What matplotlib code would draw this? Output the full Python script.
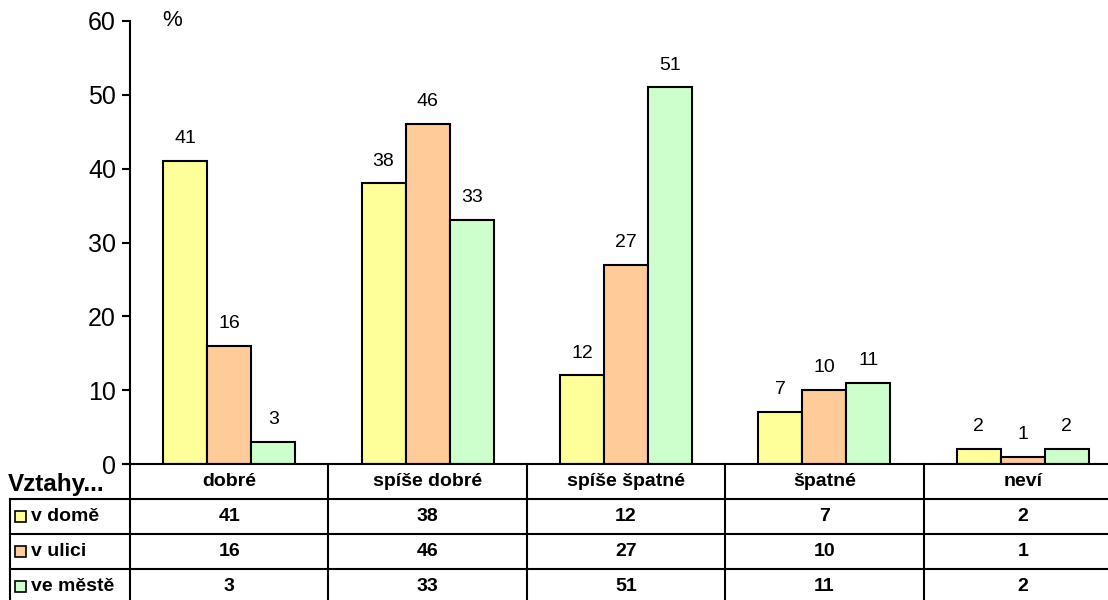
import matplotlib
matplotlib.use("Agg")
import matplotlib.pyplot as plt
from matplotlib.patches import Rectangle
import numpy as np

plt.rcParams['font.family'] = ['Liberation Sans', 'DejaVu Sans']

categories = ["dobré", "spíše dobré", "spíše špatné", "špatné", "neví"]
series_names = ["v domě", "v ulici", "ve městě"]
v_dome = [41, 38, 12, 7, 2]
v_ulici = [16, 46, 27, 10, 1]
ve_meste = [3, 33, 51, 11, 2]
series_values = [v_dome, v_ulici, ve_meste]
colors = ["#FFFF99", "#FFCC99", "#CCFFCC"]
yticks = [0, 10, 20, 30, 40, 50, 60]
row_title = "Vztahy..."
unit = "%"

W, H = 1108, 600
fig = plt.figure(figsize=(W / 100, H / 100), dpi=100)

ax_left, ax_right = 130, 1122
ax_top, ax_bot = 21, 464
ax = fig.add_axes([ax_left / W, (H - ax_bot) / H, (ax_right - ax_left) / W, (ax_bot - ax_top) / H])
ax.set_xlim(-0.5, len(categories) - 0.5)
ax.set_ylim(0, 60)

x = np.arange(len(categories))
bw = 0.222
lw = 1.5
for i, (vals, col) in enumerate(zip(series_values, colors)):
    pos = x + (i - 1) * bw
    bars = ax.bar(pos, vals, width=bw, color=col, edgecolor="black", linewidth=lw, zorder=3)
    for b, v in zip(bars, vals):
        ax.annotate(str(v), (b.get_x() + b.get_width() / 2, v), xytext=(0, 10),
                    textcoords="offset points", ha="center", va="bottom", fontsize=14)

for s in ["top", "right", "bottom"]:
    ax.spines[s].set_visible(False)
ax.spines["left"].set_linewidth(lw)
ax.set_yticks(yticks)
ax.set_yticklabels([str(t) for t in yticks], fontsize=18)
ax.tick_params(axis="y", direction="out", length=6, width=lw, pad=4)
ax.set_xticks([])
ax.text(0.033, 60, unit, transform=ax.get_yaxis_transform(), fontsize=16, va="center", ha="left")

# Table axes sharing x scale
row_h = 35
nrows = 4
tax = fig.add_axes([ax_left / W, (H - (ax_bot + row_h * nrows)) / H,
                    (ax_right - ax_left) / W, row_h * nrows / H])
tax.set_xlim(ax.get_xlim())
tax.set_ylim(nrows, 0)
tax.axis("off")
px = (ax_right - ax_left) / len(categories)  # pixels per category unit
x_lab = -0.5 - (ax_left - 10) / px
x_end = len(categories) - 0.5
kw = dict(color="black", linewidth=lw, clip_on=False, solid_capstyle="projecting")

# horizontal lines
tax.plot([-0.5 - 7 / px, x_end], [0, 0], **kw)
for r in range(1, nrows + 1):
    tax.plot([x_lab, x_end], [r, r], **kw)
# vertical lines
for c in range(len(categories) + 1):
    tax.plot([c - 0.5, c - 0.5], [0, nrows], **kw)
tax.plot([x_lab, x_lab], [1, nrows], **kw)

# header
for c, cat in enumerate(categories):
    tax.text(c, 0.5, cat, ha="center", va="center", fontsize=14, fontweight="bold")
tax.text(x_lab - 2 / px, 0.58, row_title, ha="left", va="center", fontsize=17.5, fontweight="bold", clip_on=False)

key = 11 / px
for r, (name, vals, col) in enumerate(zip(series_names, series_values, colors), start=1):
    kx = x_lab + 5 / px
    tax.add_patch(Rectangle((kx, r + 0.5 - 0.16), key, 0.32, facecolor=col, edgecolor="black",
                            linewidth=1.2, clip_on=False))
    tax.text(kx + key + 5 / px, r + 0.5, name, ha="left", va="center", fontsize=14,
             fontweight="bold", clip_on=False)
    for c, v in enumerate(vals):
        tax.text(c, r + 0.5, str(v), ha="center", va="center", fontsize=14, fontweight="bold")

fig.savefig("out.png", dpi=100)
